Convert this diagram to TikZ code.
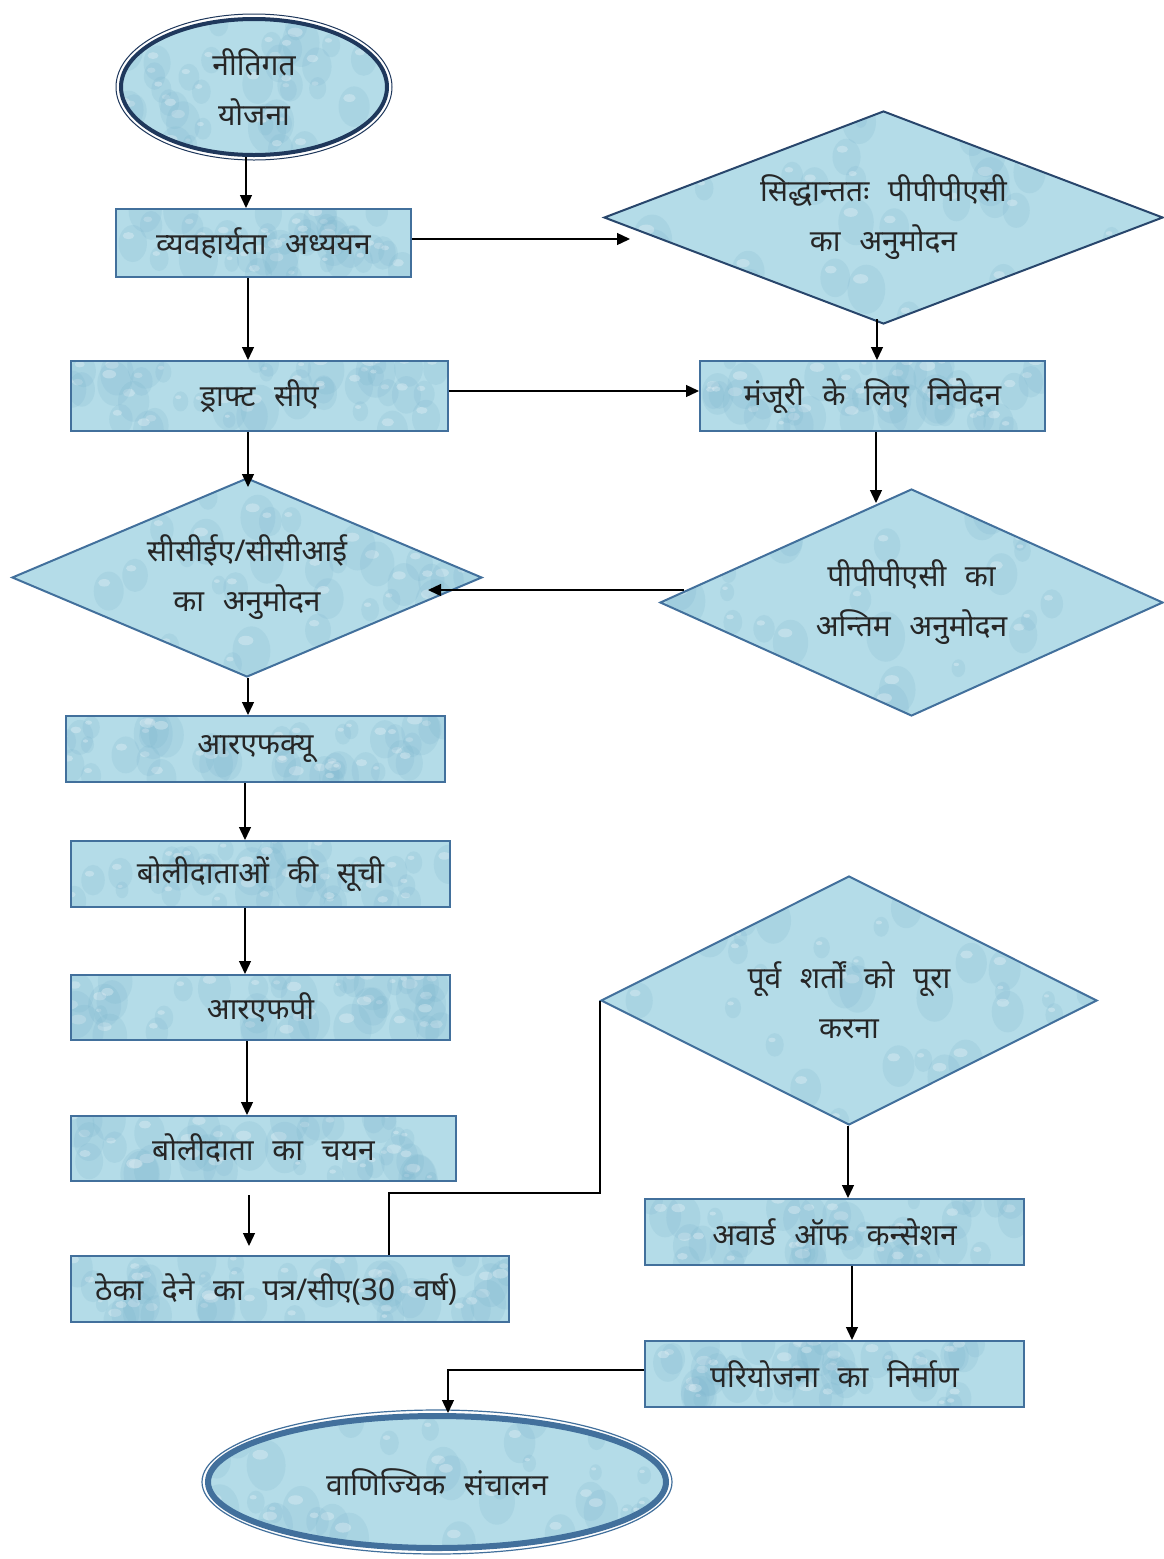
\documentclass[tikz,border=0pt]{standalone}
\usepackage{fontspec}
\newfontfamily\deva[Script=Devanagari]{Noto Sans}
\usetikzlibrary{shapes.geometric,arrows.meta,calc}
\definecolor{wbase}{RGB}{180,220,232}
\definecolor{wdrop}{RGB}{120,178,204}
\definecolor{boxc}{RGB}{66,112,156}
\definecolor{navyc}{RGB}{31,56,92}
\definecolor{dnavy}{RGB}{40,70,108}
\tikzset{
  water/.style={fill=wbase, path picture={
    \path (path picture bounding box.south west) coordinate (ppa)
          (path picture bounding box.north east) coordinate (ppb);
    \pgfmathsetseed{#1}
    \foreach \k in {1,...,40}{
      \pgfmathsetmacro\u{rnd}\pgfmathsetmacro\v{rnd}\pgfmathsetmacro\r{6+14*rnd}
      \path let \p1=(ppa), \p2=(ppb) in (\x1+\u*\x2-\u*\x1, \y1+\v*\y2-\v*\y1) coordinate (dc);
      \fill[wdrop, opacity=.18] (dc) ellipse [x radius=\r pt, y radius=1.3*\r pt];
      \fill[white, opacity=.28] ([shift={(-0.3*\r pt,0.55*\r pt)}]dc) ellipse [x radius=0.4*\r pt, y radius=0.25*\r pt];
    }}},
  txt/.style={font={\deva\fontsize{30}{50}\selectfont\spaceskip=0.62em\relax}, text=black!85, align=center, inner sep=0pt},
  boxnode/.style={rectangle, draw=boxc, line width=2pt, txt, water=#1},
  dia/.style={diamond, draw=boxc, line width=2pt, txt, water=#1},
  arr/.style={draw=black, line width=1.3pt, -{Triangle[length=13pt,width=12pt]}},
  conn/.style={draw=black, line width=1.3pt},
}
\begin{document}
\begin{tikzpicture}[x=1pt,y=-1pt]
\useasboundingbox (0,0) rectangle (1164,1559);
\fill[white] (0,0) rectangle (1164,1559);

% nodes
\node[ellipse, txt, water=11, draw=navyc, line width=4pt, minimum width=266pt, minimum height=136pt] (pol) at (254,87) {नीतिगत\\योजना};
\draw[navyc, line width=1pt] (pol.center) ellipse [x radius=138pt, y radius=73pt];

\node[boxnode=2, minimum width=295pt, minimum height=68pt] (feas) at (263.5,243) {व्यवहार्यता अध्ययन};
\node[dia=3, draw=dnavy, aspect=2.62, minimum width=559pt, minimum height=213pt] (inprin) at (883.5,217.5) {सिद्धान्ततः पीपीपीएसी\\का अनुमोदन};
\node[boxnode=4, minimum width=377pt, minimum height=70pt] (draft) at (259.5,396) {ड्राफ्ट सीए};
\node[boxnode=5, minimum width=345pt, minimum height=70pt] (req) at (872.5,396) {मंजूरी के लिए निवेदन};
\node[dia=6, aspect=2.36, minimum width=470pt, minimum height=199pt] (ccea) at (247,577.5) {सीसीईए/सीसीआई\\का अनुमोदन};
\node[dia=7, aspect=2.22, minimum width=503pt, minimum height=227pt] (final) at (911.5,602.5) {पीपीपीएसी का\\अन्तिम अनुमोदन};
\node[boxnode=8, minimum width=379pt, minimum height=66pt] (rfq) at (255.5,749) {आरएफक्यू};
\node[boxnode=9, minimum width=379pt, minimum height=66pt] (list) at (260.5,874) {बोलीदाताओं की सूची};
\node[boxnode=10, minimum width=379pt, minimum height=65pt] (rfp) at (260.5,1007.5) {आरएफपी};
\node[boxnode=12, minimum width=385pt, minimum height=65pt] (sel) at (263.5,1148.5) {बोलीदाता का चयन};
\node[boxnode=13, minimum width=438pt, minimum height=66pt] (loa) at (290,1289) {\hspace*{-28pt}ठेका देने का पत्र/सीए(30 वर्ष)};
\node[dia=14, aspect=1.99, minimum width=496pt, minimum height=249pt] (precond) at (849,1000.5) {पूर्व शर्तों को पूरा\\करना};
\node[boxnode=15, minimum width=379pt, minimum height=66pt] (award) at (834.5,1232) {अवार्ड ऑफ कन्सेशन};
\node[boxnode=16, minimum width=379pt, minimum height=66pt] (constr) at (834.5,1374) {परियोजना का निर्माण};
\node[ellipse, txt, water=17, draw=boxc, line width=6pt, minimum width=458pt, minimum height=132pt] (comm) at (437,1482) {वाणिज्यिक संचालन};
\draw[boxc, line width=1.2pt] (comm.center) ellipse [x radius=235pt, y radius=72pt];

% free connector ends
\coordinate (c3) at (630,239);
\coordinate (c7) at (876,503);
\coordinate (c8a) at (684,590);
\coordinate (c8b) at (428,590);
\coordinate (c13a) at (249,1195);
\coordinate (c13b) at (249,1246);

% connectors
\draw[arr] ([xshift=-8pt]pol.south) -- ([xshift=-8pt]pol.south |- feas.north);
\draw[arr] ([xshift=-15.5pt]feas.south) -- ([xshift=-15.5pt]feas.south |- draft.north);
\draw[arr] ([yshift=4pt]feas.east) -- (c3);
\draw[arr] ([xshift=-6.5pt,yshift=6pt]inprin.south) -- ([xshift=-6.5pt]inprin.south |- req.north);
\draw[arr] ([yshift=5pt]draft.east) -- ([yshift=5pt]draft.east -| req.west);
\draw[arr] ([xshift=-11.5pt]draft.south) -- ([xshift=-11.5pt,yshift=-10pt]draft.south |- ccea.north);
\draw[arr] ([xshift=3.5pt]req.south) -- (c7);
\draw[arr] (c8a) -- (c8b);
\draw[arr] ([xshift=1pt]ccea.south) -- ([xshift=1pt]ccea.south |- rfq.north);
\draw[arr] ([xshift=-10.5pt]rfq.south) -- ([xshift=-10.5pt]rfq.south |- list.north);
\draw[arr] ([xshift=-15.5pt]list.south) -- ([xshift=-15.5pt]list.south |- rfp.north);
\draw[arr] ([xshift=-13.5pt]rfp.south) -- ([xshift=-13.5pt]rfp.south |- sel.north);
\draw[arr] (c13a) -- (c13b);
\draw[conn] ([xshift=99pt]loa.north) -- ++(0,-62) -| (precond.west);
\draw[arr] ([xshift=-1pt]precond.south) -- ([xshift=-1pt]precond.south |- award.north);
\draw[arr] ([xshift=17.5pt]award.south) -- ([xshift=17.5pt]award.south |- constr.north);
\draw[arr] ([yshift=4pt]constr.west) -| ([xshift=11pt]comm.north);
\end{tikzpicture}
\end{document}
